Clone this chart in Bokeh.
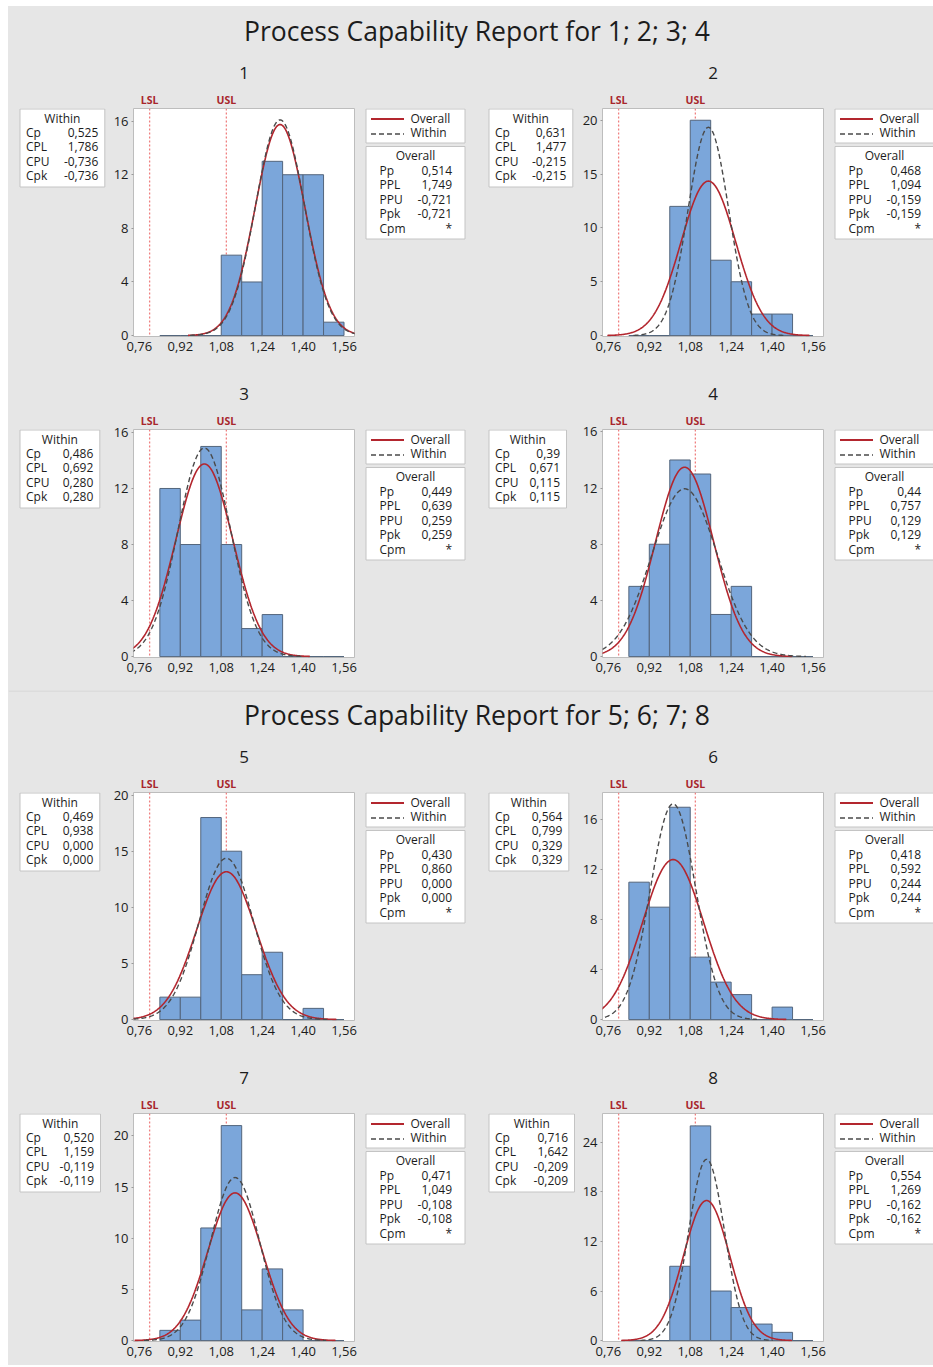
import numpy as np
from bokeh.plotting import figure
from bokeh.layouts import row, column
from bokeh.models import Range1d, FixedTicker, CustomJSTickFormatter, LinearAxis, Span, Spacer
from bokeh.core.properties import value
from bokeh.embed import file_html
from bokeh.resources import INLINE

# ---------------- data ----------------
report_titles = ["Process Capability Report for 1; 2; 3; 4",
                 "Process Capability Report for 5; 6; 7; 8"]
series_names = ["1", "2", "3", "4", "5", "6", "7", "8"]
lsl = 0.80
usl = 1.10
bin_width = 0.08
bin_left = [0.84, 0.92, 1.00, 1.08, 1.16, 1.24, 1.32, 1.40, 1.48]
counts_1 = [0, 0, 0, 6, 4, 13, 12, 12, 1]
counts_2 = [0, 0, 12, 20, 7, 5, 2, 2, 0]
counts_3 = [12, 8, 15, 8, 2, 3, 0, 0, 0]
counts_4 = [5, 8, 14, 13, 3, 5, 0, 0, 0]
counts_5 = [2, 2, 18, 15, 4, 6, 0, 1, 0]
counts_6 = [11, 9, 17, 5, 3, 2, 0, 1, 0]
counts_7 = [1, 2, 11, 21, 3, 7, 3, 0, 0]
counts_8 = [0, 0, 9, 26, 6, 4, 2, 1, 0]
counts = [counts_1, counts_2, counts_3, counts_4, counts_5, counts_6, counts_7, counts_8]

# fitted normal parameters (mean, overall and within standard deviation)
mean_value = [1.310, 1.151, 1.014, 1.058, 1.100, 1.013, 1.134, 1.144]
sd_overall = [0.0973, 0.1068, 0.1114, 0.1136, 0.1163, 0.1196, 0.1062, 0.0903]
sd_within = [0.0952, 0.0792, 0.1029, 0.1282, 0.1066, 0.0887, 0.0962, 0.0698]

within_cp = ["0,525", "0,631", "0,486", "0,39", "0,469", "0,564", "0,520", "0,716"]
within_cpl = ["1,786", "1,477", "0,692", "0,671", "0,938", "0,799", "1,159", "1,642"]
within_cpu = ["-0,736", "-0,215", "0,280", "0,115", "0,000", "0,329", "-0,119", "-0,209"]
within_cpk = ["-0,736", "-0,215", "0,280", "0,115", "0,000", "0,329", "-0,119", "-0,209"]
overall_pp = ["0,514", "0,468", "0,449", "0,44", "0,430", "0,418", "0,471", "0,554"]
overall_ppl = ["1,749", "1,094", "0,639", "0,757", "0,860", "0,592", "1,049", "1,269"]
overall_ppu = ["-0,721", "-0,159", "0,259", "0,129", "0,000", "0,244", "-0,108", "-0,162"]
overall_ppk = ["-0,721", "-0,159", "0,259", "0,129", "0,000", "0,244", "-0,108", "-0,162"]
overall_cpm = ["*", "*", "*", "*", "*", "*", "*", "*"]

x_ticks = [0.76, 0.92, 1.08, 1.24, 1.40, 1.56]
y_ticks = [[0, 4, 8, 12, 16], [0, 5, 10, 15, 20], [0, 4, 8, 12, 16], [0, 4, 8, 12, 16],
           [0, 5, 10, 15, 20], [0, 4, 8, 12, 16], [0, 5, 10, 15, 20], [0, 6, 12, 18, 24]]
y_top = [16.94, 21.09, 16.21, 16.17, 20.23, 18.18, 22.18, 27.5]

# ---------------- styles / layout ----------------
GRAY = "#e6e6e6"
FONT = "Open Sans"
TXT = "#1c1c1c"
BOX_LINE = "#c4c4c4"
RED = "#b3262e"
SPEC_RED = "#ef8080"
SPEC_LABEL = "#a8262c"
BAR_FILL = "#7ba6da"
BAR_LINE = "#53657c"
WITHIN_GRAY = "#4a4a4a"
BG = {"background-color": GRAY}

CELL_W = [469, 456]
WITHIN_W = 100
HIST_W = 256
FRAME_TOP = 56
FRAME_H = 228
X_RANGE = (0.737, 1.601)
within_right = [96.3, 95.3, 91.3, 89, 91.3, 91.3, 92, 97]


def pix_fig(w, h, framed=True):
    if framed:
        top, bottom = FRAME_TOP, h - FRAME_TOP - FRAME_H
        yr = Range1d(FRAME_TOP + FRAME_H, FRAME_TOP)
    else:
        top, bottom = 0, 0
        yr = Range1d(h, 0)
    p = figure(width=w, height=h, x_range=Range1d(0, w), y_range=yr,
               x_axis_type=None, y_axis_type=None, toolbar_location=None,
               output_backend="svg", min_border_left=0, min_border_right=0,
               min_border_top=top, min_border_bottom=bottom,
               background_fill_color=GRAY, border_fill_color=GRAY,
               outline_line_color=None, styles=BG)
    return p


def txt(p, x, y, s, align="left", size="12px", color=TXT, style="normal"):
    p.text(x=[x], y=[y], text=[s], text_align=align, text_baseline="middle",
           text_font=value(FONT), text_font_size=value(size), text_color=color,
           text_font_style=style)


def within_panel(i, h):
    p = pix_fig(WITHIN_W, h)
    L, R = 11.5, within_right[i]
    T, B = FRAME_TOP + 0.5, FRAME_TOP + 78.5
    p.quad(left=[L], right=[R], top=[T], bottom=[B], fill_color="white",
           line_color=BOX_LINE, line_width=1)
    txt(p, (L + R) / 2, T + 9, "Within", align="center")
    names = ["Cp", "CPL", "CPU", "Cpk"]
    vals = [within_cp[i], within_cpl[i], within_cpu[i], within_cpk[i]]
    for k, (n, v) in enumerate(zip(names, vals)):
        y = T + 23 + 14.6 * k
        txt(p, L + 6, y, n)
        txt(p, R - 6.5, y, v, align="right")
    return p


def right_panel(i, w, h):
    p = pix_fig(w, h)
    L, R = 1.5, 100.5
    T, B = FRAME_TOP + 0.5, FRAME_TOP + 34.5
    p.quad(left=[L], right=[R], top=[T], bottom=[B], fill_color="white",
           line_color=BOX_LINE, line_width=1)
    p.line([L + 5, L + 38], [T + 10, T + 10], line_color=RED, line_width=2)
    txt(p, L + 44.5, T + 9, "Overall")
    p.line([L + 5, L + 38], [T + 25, T + 25], line_color=WITHIN_GRAY,
           line_width=1.3, line_dash="5 3")
    txt(p, L + 44.5, T + 23.5, "Within")

    T2, B2 = FRAME_TOP + 38, FRAME_TOP + 130.5
    p.quad(left=[L], right=[R], top=[T2], bottom=[B2], fill_color="white",
           line_color=BOX_LINE, line_width=1)
    txt(p, (L + R) / 2, T2 + 9, "Overall", align="center")
    names = ["Pp", "PPL", "PPU", "Ppk", "Cpm"]
    vals = [overall_pp[i], overall_ppl[i], overall_ppu[i], overall_ppk[i], overall_cpm[i]]
    for k, (n, v) in enumerate(zip(names, vals)):
        y = T2 + 23.5 + 14.6 * k
        txt(p, L + 13.5, y, n)
        txt(p, R - 13, y, v, align="right")
    return p


def hist_panel(i, h):
    top = y_top[i]
    p = figure(width=HIST_W, height=h, x_range=Range1d(*X_RANGE),
               y_range=Range1d(-0.004 * top, top), toolbar_location=None,
               output_backend="svg", min_border_left=25, min_border_right=10,
               min_border_top=FRAME_TOP, min_border_bottom=h - FRAME_TOP - FRAME_H,
               background_fill_color="white", border_fill_color=GRAY,
               outline_line_color="#bdbdbd", styles=BG)
    p.grid.visible = False

    # spec limit lines behind the bars
    for loc in (lsl, usl):
        p.add_layout(Span(location=loc, dimension="height", line_color=SPEC_RED,
                          line_dash="2 2", line_width=1.3, level="underlay"))

    c = counts[i]
    right = [b + bin_width for b in bin_left]
    p.quad(left=bin_left, right=right, top=c, bottom=[0] * len(c),
           fill_color=BAR_FILL, line_color=BAR_LINE, line_width=1)

    n = sum(c)
    m = mean_value[i]
    for sd, color, dash, lw in ((sd_overall[i], RED, "solid", 1.6),
                                (sd_within[i], WITHIN_GRAY, "5 3", 1.4)):
        xs = np.linspace(m - 3.7 * sd, m + 3.7 * sd, 301)
        ys = n * bin_width / (sd * np.sqrt(2 * np.pi)) * np.exp(-0.5 * ((xs - m) / sd) ** 2)
        p.line(xs, ys, line_color=color, line_width=lw, line_dash=dash)

    xa = p.xaxis[0]
    xa.ticker = FixedTicker(ticks=x_ticks)
    xa.formatter = CustomJSTickFormatter(code="return tick.toFixed(2).replace('.', ',')")
    xa.axis_line_color = None
    xa.major_tick_line_color = None
    xa.minor_tick_line_color = None
    xa.major_tick_out = 0
    xa.major_tick_in = 0
    xa.major_label_standoff = 5
    xa.major_label_text_font = FONT
    xa.major_label_text_font_size = "13px"
    xa.major_label_text_color = TXT

    ya = p.yaxis[0]
    ya.ticker = FixedTicker(ticks=y_ticks[i])
    ya.axis_line_color = None
    ya.major_tick_line_color = "#9a9a9a"
    ya.major_tick_out = 2
    ya.major_tick_in = 0
    ya.minor_tick_line_color = None
    ya.major_label_standoff = 3
    ya.major_label_text_font = FONT
    ya.major_label_text_font_size = "13px"
    ya.major_label_text_color = TXT

    spec_axis = LinearAxis(
        ticker=FixedTicker(ticks=[lsl, usl]),
        formatter=CustomJSTickFormatter(args=dict(lsl=lsl),
                                        code="return Math.abs(tick - lsl) < 1e-9 ? 'LSL' : 'USL'"),
        axis_line_color=None, major_tick_line_color=None, minor_tick_line_color=None,
        major_tick_out=0, major_tick_in=0, major_label_standoff=2,
        major_label_text_font=FONT, major_label_text_font_size="10.5px",
        major_label_text_font_style="bold", major_label_text_color=SPEC_LABEL)
    p.add_layout(spec_axis, "above")

    title_axis = LinearAxis(
        ticker=FixedTicker(ticks=[(X_RANGE[0] + X_RANGE[1]) / 2]),
        formatter=CustomJSTickFormatter(args=dict(name=series_names[i]), code="return name"),
        axis_line_color=None, major_tick_line_color=None, minor_tick_line_color=None,
        major_tick_out=0, major_tick_in=0, major_label_standoff=11,
        major_label_text_font=FONT, major_label_text_font_size="17px",
        major_label_text_color=TXT)
    p.add_layout(title_axis, "above")
    return p


def cell(i, side, h):
    w = CELL_W[side]
    return row(within_panel(i, h), hist_panel(i, h),
               right_panel(i, w - WITHIN_W - HIST_W, h), styles=BG)


def title_fig(t, h, ty, sep):
    w = sum(CELL_W)
    p = pix_fig(w, h, framed=False)
    if sep:
        p.line([0, w], [0.5, 0.5], line_color="#d2d2d2", line_width=1)
    txt(p, 468.5, ty, t, align="center", size="26.5px")
    return p


report1 = column(title_fig(report_titles[0], 46, 24, False),
                 row(cell(0, 0, 321), cell(1, 1, 321), styles=BG),
                 row(cell(2, 0, 317), cell(3, 1, 317), styles=BG), styles=BG)
report2 = column(title_fig(report_titles[1], 46, 24, True),
                 row(cell(4, 0, 321), cell(5, 1, 321), styles=BG),
                 row(cell(6, 0, 308), cell(7, 1, 308), styles=BG), styles=BG)
layout = column(Spacer(width=933, height=6),
                row(Spacer(width=8, height=10), column(report1, report2, styles=BG)))

open("out.html", "w").write(file_html(layout, INLINE))
